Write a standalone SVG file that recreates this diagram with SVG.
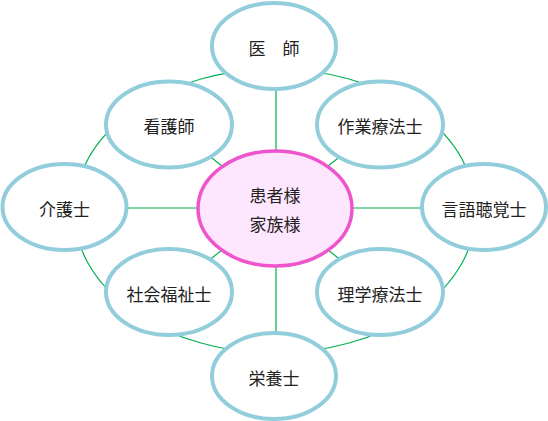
<svg xmlns="http://www.w3.org/2000/svg" width="548" height="421" viewBox="0 0 548 421">
<style>
.ring{fill:none;stroke:#00b050;stroke-width:1.2}
.spoke{stroke:#00b050;stroke-width:1.2}
.outer{fill:#ffffff;stroke:#92cddc;stroke-width:4}
.center{fill:#ffe6ff;stroke:#ee55cc;stroke-width:3.5}
text{font-family:"Noto Sans CJK JP","Noto Sans",sans-serif;font-size:17px;fill:#222;text-anchor:middle;dominant-baseline:central}
</style>
<rect width="548" height="421" fill="#ffffff"/>
<g id="connectors">
<ellipse class="ring" cx="275" cy="211" rx="201" ry="142"/>
<line class="spoke" x1="276" y1="46" x2="276" y2="376"/>
<line class="spoke" x1="64" y1="208" x2="484" y2="208"/>
<line class="spoke" x1="169" y1="124" x2="381" y2="292"/>
<line class="spoke" x1="381" y1="124" x2="169" y2="292"/>
</g>
<g id="doctor"><ellipse class="outer" cx="274" cy="46" rx="62" ry="43"/><text x="274" y="47">医　師</text></g>
<g id="nurse"><ellipse class="outer" cx="169" cy="124.5" rx="63" ry="43"/><text x="169" y="125">看護師</text></g>
<g id="ot"><ellipse class="outer" cx="380" cy="124.5" rx="63" ry="43"/><text x="380" y="125">作業療法士</text></g>
<g id="caregiver"><ellipse class="outer" cx="64.5" cy="207" rx="62" ry="43"/><text x="64.5" y="208">介護士</text></g>
<g id="st"><ellipse class="outer" cx="484" cy="207" rx="62" ry="43"/><text x="484" y="208">言語聴覚士</text></g>
<g id="sw"><ellipse class="outer" cx="169" cy="292" rx="63" ry="43"/><text x="169" y="293">社会福祉士</text></g>
<g id="pt"><ellipse class="outer" cx="380" cy="292" rx="63" ry="43"/><text x="380" y="293">理学療法士</text></g>
<g id="dietitian"><ellipse class="outer" cx="274" cy="376" rx="62" ry="43"/><text x="274" y="377">栄養士</text></g>
<g id="patient"><ellipse class="center" cx="275" cy="208.5" rx="77" ry="57.5"/><text x="275" y="194">患者様</text><text x="275" y="223">家族様</text></g>
</svg>
